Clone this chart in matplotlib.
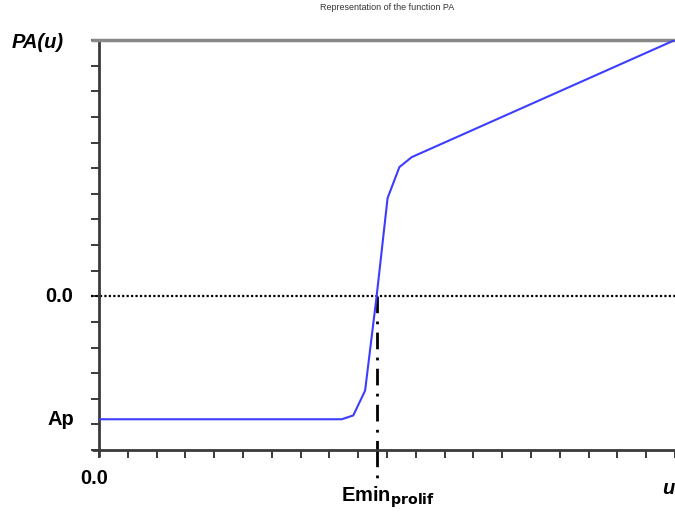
import matplotlib.pyplot as plt
from matplotlib.ticker import MultipleLocator, NullFormatter
import matplotlib.transforms as mtransforms

# PA(u) curve, x in units of u-ticks, y in units of PA-ticks
u_vals = [0.0, 8.43, 8.83, 9.24, 9.64, 10.02, 10.43, 10.86, 20.0]
pa_vals = [-4.8, -4.8, -4.65, -3.68, 0.0, 3.83, 5.04, 5.43, 10.0]

ap_level = -4.8
emin_prolif = 9.65
x_range = (0, 20)
y_range = (-6, 10)

plt.rcParams['font.family'] = ['Liberation Sans', 'DejaVu Sans']

fig = plt.figure(figsize=(6.75, 5.18), dpi=100)
ax = fig.add_axes([99 / 675, 68 / 518, 576 / 675, 410 / 518])

ax.plot(u_vals, pa_vals, color='#3d3dff', lw=1.5, zorder=3)

# zero level and Emin marker
ax.axhline(0.0, xmin=-0.014, xmax=1, color='black', lw=1.6,
           linestyle=(0, (1, 1)), clip_on=False, zorder=2)
dashdot = (0, (6, 3, 1, 3))
ax.plot([emin_prolif, emin_prolif], [0.0, y_range[0]], color='black', lw=2,
        linestyle=dashdot, zorder=2)
ax.plot([emin_prolif, emin_prolif], [y_range[0], y_range[0] - 1.1],
        color='black', lw=2, linestyle=dashdot, clip_on=False)

ax.set_xlim(*x_range)
ax.set_ylim(*y_range)

for s in ax.spines.values():
    s.set_visible(False)
# axis frame lines, slightly overhanging like the tick marks
ax.plot([0, 0], [-0.017, 1], transform=ax.transAxes, color='#3a3a3a',
        lw=2, clip_on=False, solid_capstyle='butt')
ax.plot([-0.012, 1], [0, 0], transform=ax.transAxes, color='#3a3a3a',
        lw=2, clip_on=False, solid_capstyle='butt')
ax.plot([-0.014, 1], [1, 1], transform=ax.transAxes, color='#888888',
        lw=2.5, clip_on=False, solid_capstyle='butt')

ax.xaxis.set_major_locator(MultipleLocator(1))
ax.yaxis.set_major_locator(MultipleLocator(1))
ax.xaxis.set_major_formatter(NullFormatter())
ax.yaxis.set_major_formatter(NullFormatter())
ax.tick_params(axis='both', direction='out', length=6, width=1.4,
               color='#3a3a3a')
ax.tick_params(axis='y', right=False)
ax.tick_params(axis='x', top=False)

ylab = mtransforms.blended_transform_factory(fig.transFigure, ax.transData)
xlab = mtransforms.blended_transform_factory(ax.transData, fig.transFigure)
bold = dict(fontsize=14.5, fontweight='bold', color='black')

ax.text(73 / 675, 0.0, '0.0', transform=ylab, ha='right', va='center', **bold)
ax.text(74 / 675, ap_level, 'Ap', transform=ylab, ha='right', va='center', **bold)
fig.text(38 / 675, 1 - 43 / 518, 'PA(u)', ha='center', va='center',
         fontstyle='italic', **bold)

ax.text(-0.17, 1 - 479 / 518, '0.0', transform=xlab, ha='center',
        va='center', **bold)
ax.text(emin_prolif + 0.4, 1 - 497 / 518, r'Emin$_{\mathbf{prolif}}$',
        transform=xlab, ha='center', va='center', **bold)
fig.text(668 / 675, 1 - 488 / 518, 'u', ha='center', va='center',
         fontstyle='italic', **bold)

fig.text(387 / 675, 1 - 8 / 518, 'Representation of the function PA',
         ha='center', va='center', fontsize=6.5, color='#333333')

fig.savefig('out.png', dpi=100)
